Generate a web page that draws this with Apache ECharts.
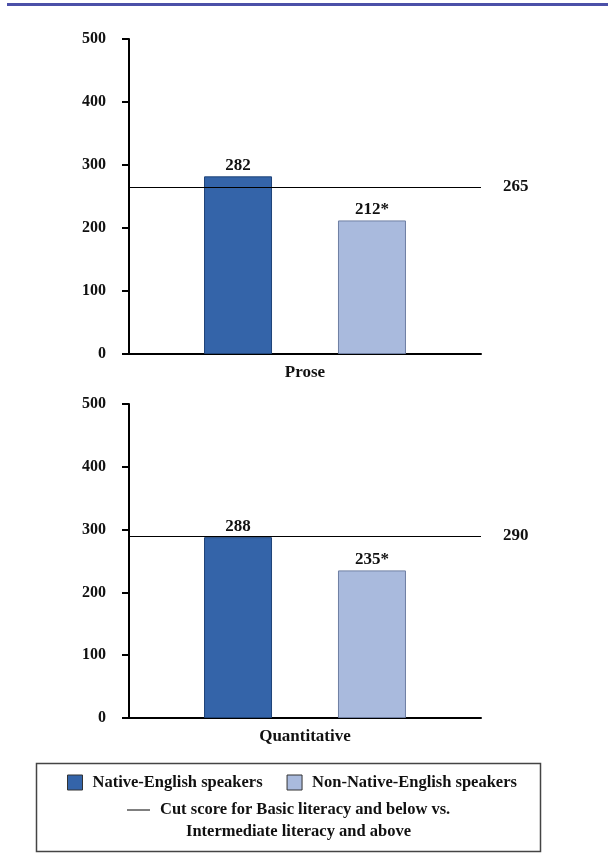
<!DOCTYPE html>
<html><head><meta charset="utf-8">
<script src="https://cdn.jsdelivr.net/npm/echarts@6/dist/echarts.min.js"></script>
<style>html,body{margin:0;padding:0;background:#fff}#c{width:608px;height:854px}</style>
</head><body><div id="c"></div>
<script>
const panels = ['Prose', 'Quantitative'];
const nativeValues = [282, 288];
const nonNativeValues = [212, 235];
const nonNativeMarks = ['*', '*'];
const cutScores = [265, 290];
const yTicks = [0, 100, 200, 300, 400, 500];
const seriesNames = ['Native-English speakers', 'Non-Native-English speakers'];
const cutLabel = ['Cut score for Basic literacy and below vs.', 'Intermediate literacy and above'];

const FONT = '"Liberation Serif","Times New Roman",serif';
const chart = echarts.init(document.getElementById('c'));
const grids = [
  {left: 129, top: 39, width: 352, height: 315},
  {left: 129, top: 404, width: 352, height: 314}
];
const xAxes = [], yAxes = [], series = [];
panels.forEach((p, i) => {
  xAxes.push({type: 'category', gridIndex: i, data: [p],
    axisLine: {lineStyle: {color: '#000', width: 2}}, axisTick: {show: false},
    axisLabel: {color: '#111', fontFamily: FONT, fontWeight: 'bold', fontSize: 17, margin: 10}});
  yAxes.push({type: 'value', gridIndex: i, min: yTicks[0], max: yTicks[yTicks.length - 1], interval: 100,
    splitLine: {show: false},
    axisLine: {show: true, lineStyle: {color: '#000', width: 2}},
    axisTick: {show: true, length: 7, lineStyle: {color: '#000', width: 2}},
    axisLabel: {color: '#111', fontFamily: FONT, fontWeight: 'bold', fontSize: 16, margin: 23}});
  series.push({name: seriesNames[0], type: 'bar', xAxisIndex: i, yAxisIndex: i,
    data: [nativeValues[i]], barWidth: 68, barGap: '97%',
    itemStyle: {color: '#3464a9', borderColor: '#1f4479', borderWidth: 1},
    label: {show: true, position: 'top', distance: 2, color: '#111', fontFamily: FONT, fontWeight: 'bold', fontSize: 17},
    markLine: {symbol: 'none', silent: true, animation: false,
      lineStyle: {color: '#000', width: 1, type: 'solid'},
      label: {show: true, position: 'end', distance: 22, color: '#111', fontFamily: FONT, fontWeight: 'bold', fontSize: 17, formatter: '{c}'},
      data: [{yAxis: cutScores[i]}]}
  });
  series.push({name: seriesNames[1], type: 'bar', xAxisIndex: i, yAxisIndex: i,
    data: [nonNativeValues[i]], barWidth: 68,
    itemStyle: {color: '#a9badd', borderColor: '#6f7fa3', borderWidth: 1},
    label: {show: true, position: 'top', distance: 2, color: '#111', fontFamily: FONT, fontWeight: 'bold', fontSize: 17,
      formatter: (d) => d.value + nonNativeMarks[i]}
  });
});

chart.setOption({
  animation: false,
  grid: grids, xAxis: xAxes, yAxis: yAxes, series: series,
  legend: {data: seriesNames, top: 769, left: 62, itemWidth: 15, itemHeight: 15, itemGap: 24,
    icon: 'rect',
    textStyle: {color: '#111', fontFamily: FONT, fontWeight: 'bold', fontSize: 16.5, padding: [0, 0, 0, 5]},
    itemStyle: {borderColor: '#333', borderWidth: 1}},
  graphic: [
    {type: 'rect', left: 7, top: 3, shape: {width: 601, height: 3}, style: {fill: '#4b50a8'}},
    {type: 'rect', shape: {x: 36.5, y: 763.5, width: 504, height: 88}, style: {fill: 'none', stroke: '#444', lineWidth: 1.5}},
    {type: 'line', shape: {x1: 127, y1: 810, x2: 150, y2: 810}, style: {stroke: '#000', lineWidth: 1}},
    {type: 'text', left: 160, top: 801, style: {text: cutLabel[0], fill: '#111', font: 'bold 16.5px ' + FONT}},
    {type: 'text', left: 186, top: 823, style: {text: cutLabel[1], fill: '#111', font: 'bold 16.5px ' + FONT}}
  ]
});
</script></body></html>
